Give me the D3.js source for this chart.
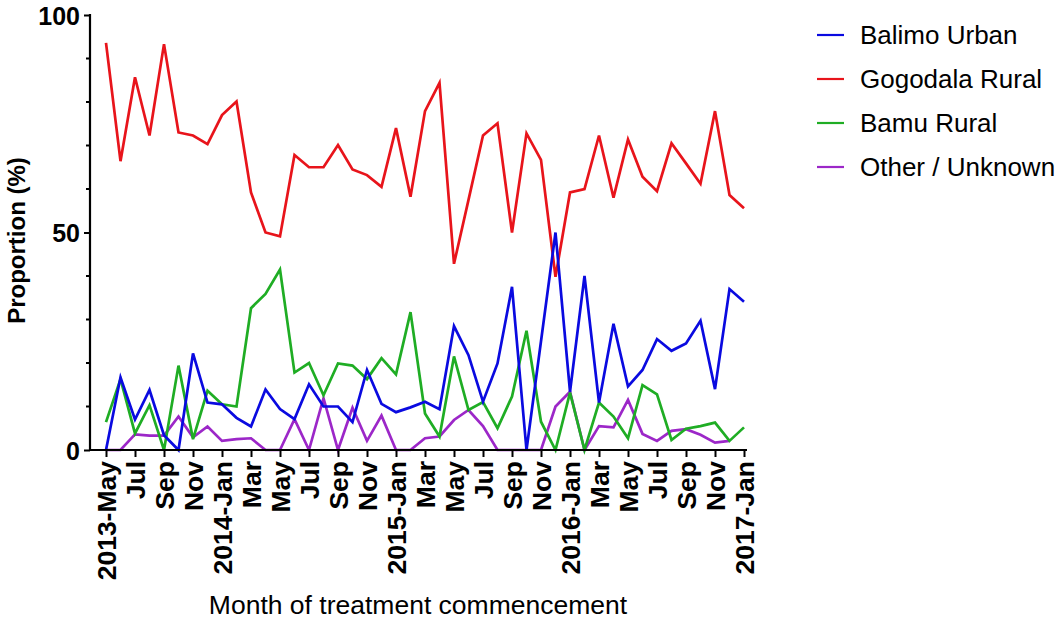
<!DOCTYPE html>
<html>
<head>
<meta charset="utf-8">
<script src="https://cdn.jsdelivr.net/npm/d3@7"></script>
<style>
  html, body { margin: 0; padding: 0; background: #fff; }
  svg { display: block; font-family: Arial, "Liberation Sans", sans-serif; }
</style>
</head>
<body>
<svg id="chart" width="1060" height="619"></svg>
<script>
// Months of treatment commencement, May 2013 – Jan 2017
const months = [
  "2013-05","2013-06","2013-07","2013-08","2013-09","2013-10","2013-11","2013-12",
  "2014-01","2014-02","2014-03","2014-04","2014-05","2014-06","2014-07","2014-08",
  "2014-09","2014-10","2014-11","2014-12","2015-01","2015-02","2015-03","2015-04",
  "2015-05","2015-06","2015-07","2015-08","2015-09","2015-10","2015-11","2015-12",
  "2016-01","2016-02","2016-03","2016-04","2016-05","2016-06","2016-07","2016-08",
  "2016-09","2016-10","2016-11","2016-12","2017-01"
];

// Proportion (%) of patients by residence, one value per month
const balimoUrban = [
  0, 16.7, 7.0, 13.8, 3.4, 0, 22.2, 10.9, 10.5, 7.4, 5.4, 13.9, 9.4, 7.1, 15.1,
  10.0, 10.0, 6.4, 18.4, 10.6, 8.7, 9.8, 11.1, 9.4, 28.5, 21.8, 11.1, 19.9, 37.5,
  0, 25.0, 50.0, 13.4, 40.0, 10.9, 29.0, 14.6, 18.4, 25.5, 22.8, 24.5, 29.7, 14.0,
  37.0, 34.1
];
const gogodalaRural = [
  93.6, 66.4, 85.7, 72.3, 93.3, 73.0, 72.3, 70.3, 77.0, 80.1, 59.2, 50.0, 49.1,
  67.8, 65.0, 65.0, 70.1, 64.5, 63.2, 60.5, 74.0, 58.2, 77.9, 84.4, 42.8, 57.5,
  72.3, 75.1, 50.0, 72.8, 66.7, 39.8, 59.2, 60.0, 72.3, 58.0, 71.4, 62.8, 59.5,
  70.5, 65.9, 61.2, 77.9, 58.6, 55.6
];
const bamuRural = [
  6.4, 16.3, 3.8, 10.3, 0, 19.4, 2.5, 13.6, 10.5, 10.0, 32.6, 35.9, 41.5, 17.8,
  20.0, 12.6, 19.9, 19.4, 16.3, 21.1, 17.4, 31.7, 8.4, 3.1, 21.5, 9.2, 11.0, 5.0,
  12.3, 27.4, 6.5, 0, 13.2, 0, 10.9, 7.7, 2.7, 14.9, 12.8, 2.3, 4.9, 5.5, 6.3,
  2.1, 5.2
];
const otherUnknown = [
  0, 0, 3.6, 3.3, 3.3, 7.7, 2.9, 5.4, 2.1, 2.5, 2.7, 0, 0, 7.1, 0, 11.9, 0, 9.7,
  2.1, 7.9, 0, 0, 2.7, 3.1, 6.9, 9.2, 5.5, 0, 0, 0, 0, 10.0, 13.4, 0, 5.5, 5.2,
  11.5, 3.7, 2.1, 4.4, 4.8, 3.5, 1.7, 2.1, null
];

const seriesNames = ["Balimo Urban", "Gogodala Rural", "Bamu Rural", "Other / Unknown"];
const seriesColors = ["#0a0ae0", "#e8141b", "#1fad24", "#9c27c8"];
const seriesValues = [balimoUrban, gogodalaRural, bamuRural, otherUnknown];

// Tick labels on the month axis (every second month)
const tickMonths = months.filter((d, i) => i % 2 === 0);
const tickLabels = [
  "2013-May","Jul","Sep","Nov","2014-Jan","Mar","May","Jul","Sep","Nov",
  "2015-Jan","Mar","May","Jul","Sep","Nov","2016-Jan","Mar","May","Jul","Sep","Nov",
  "2017-Jan"
];
const yMajorTicks = [0, 50, 100];
const yMinorTicks = [10, 20, 30, 40, 60, 70, 80, 90];

const svg = d3.select("#chart");

const x = d3.scalePoint().domain(months).range([106, 744]);
const y = d3.scaleLinear().domain([0, 100]).range([450, 15]);

const axisLeft = 90, axisRight = 747;

// Lines
const line = d3.line()
  .defined(d => d != null)
  .x((d, i) => x(months[i]))
  .y(d => y(d));

// draw order: purple, green, red, blue (blue on top)
[3, 2, 1, 0].forEach(k => {
  svg.append("path")
    .datum(seriesValues[k])
    .attr("fill", "none")
    .attr("stroke", seriesColors[k])
    .attr("stroke-width", 2.7)
    .attr("stroke-linejoin", "miter")
    .attr("d", line);
});

// Y axis
const yAxis = svg.append("g").attr("transform", `translate(${axisLeft},0)`);
yAxis.call(d3.axisLeft(y).tickValues(yMajorTicks).tickSize(6).tickPadding(4).tickFormat(d3.format("d")));
yAxis.select(".domain").remove();
yAxis.append("line")
  .attr("x1", 0).attr("x2", 0)
  .attr("y1", y(100) - 1).attr("y2", y(0) + 1)
  .attr("stroke", "#000").attr("stroke-width", 2.2);
yAxis.selectAll(".tick line").attr("stroke", "#000").attr("stroke-width", 2);
yAxis.selectAll(".tick text")
  .attr("fill", "#000")
  .style("font-size", "25px")
  .style("font-weight", "bold")
  .attr("dy", "0.36em");
yAxis.selectAll(".minor")
  .data(yMinorTicks)
  .enter().append("line")
  .attr("x1", -4).attr("x2", 0)
  .attr("y1", d => y(d)).attr("y2", d => y(d))
  .attr("stroke", "#000").attr("stroke-width", 2);

// X axis
const xAxis = svg.append("g").attr("transform", `translate(0,${y(0)})`);
xAxis.call(d3.axisBottom(x).tickValues(tickMonths).tickSize(7).tickFormat((d, i) => tickLabels[i]));
xAxis.select(".domain").remove();
xAxis.append("line")
  .attr("x1", axisLeft - 1).attr("x2", axisRight)
  .attr("y1", 0).attr("y2", 0)
  .attr("stroke", "#000").attr("stroke-width", 2.2);
xAxis.selectAll(".tick line").attr("stroke", "#000").attr("stroke-width", 2);
xAxis.selectAll(".tick text")
  .attr("fill", "#000")
  .style("font-size", "26.5px")
  .style("font-weight", "bold")
  .attr("text-anchor", "end")
  .attr("transform", "rotate(-90)")
  .attr("x", -11)
  .attr("y", 0)
  .attr("dy", "0.36em");

// Axis titles
svg.append("text")
  .attr("transform", `translate(25,${(y(0) + y(100)) / 2 + 8}) rotate(-90)`)
  .attr("text-anchor", "middle")
  .style("font-size", "24px")
  .style("font-weight", "bold")
  .text("Proportion (%)");

svg.append("text")
  .attr("x", 418)
  .attr("y", 614)
  .attr("text-anchor", "middle")
  .style("font-size", "26.5px")
  .text("Month of treatment commencement");

// Legend
const legend = svg.append("g").attr("transform", "translate(817,35)");
seriesNames.forEach((name, i) => {
  const g = legend.append("g").attr("transform", `translate(0,${i * 44})`);
  g.append("line")
    .attr("x1", 0).attr("x2", 27)
    .attr("y1", 0).attr("y2", 0)
    .attr("stroke", seriesColors[i]).attr("stroke-width", 2.2);
  g.append("text")
    .attr("x", 43)
    .attr("y", 0)
    .attr("dy", "0.36em")
    .style("font-size", "26px")
    .text(name);
});
</script>
</body>
</html>
